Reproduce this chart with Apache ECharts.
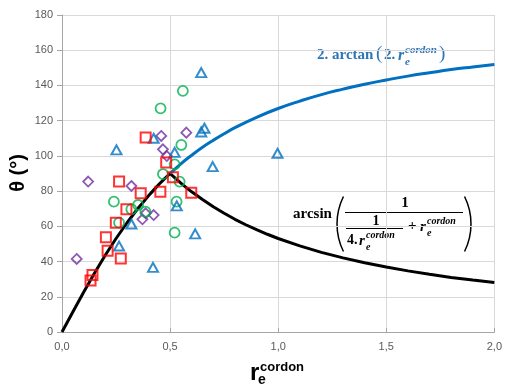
<!DOCTYPE html>
<html><head><meta charset="utf-8">
<script src="https://cdn.jsdelivr.net/npm/echarts@6/dist/echarts.min.js"></script>
<style>html,body{margin:0;padding:0;background:#fff}#c{width:505px;height:388px}</style>
</head><body><div id="c"></div>
<script>
// Curves
const asinR = [0,0.05,0.1,0.15,0.2,0.25,0.3,0.35,0.4,0.425,0.45,0.475,0.5,0.525,0.55,0.575,0.6,0.65,0.7,0.75,0.8,0.85,0.9,0.95,1.0,1.1,1.2,1.3,1.4,1.5,1.6,1.7,1.8,1.9,2.0];
const asinTheta = [0,11.4,22.6,33.4,43.6,53.1,61.9,70.0,77.3,80.7,84.0,87.1,90,87.2,84.5,82.0,79.6,75.2,71.1,67.4,64.0,60.9,58.1,55.5,53.1,48.9,45.2,42.1,39.3,36.9,34.7,32.8,31.0,29.5,28.1];
const atanR = [0.5,0.55,0.6,0.65,0.7,0.75,0.8,0.9,1.0,1.1,1.2,1.3,1.4,1.5,1.6,1.7,1.8,1.9,2.0];
const atanTheta = [90,95.5,100.4,104.9,108.9,112.6,116.0,121.9,126.9,131.1,134.8,137.9,140.7,143.1,145.3,147.2,149.0,150.5,151.9];

// Measured points
const redX = [0.132,0.141,0.203,0.211,0.249,0.272,0.264,0.298,0.364,0.387,0.455,0.482,0.513,0.598];
const redY = [29.2,32.4,53.8,46.2,62.1,41.8,85.4,69.7,78.8,110.5,79.7,96.2,87.8,79.1];
const greenX = [0.240,0.264,0.321,0.352,0.386,0.456,0.467,0.521,0.544,0.530,0.521,0.552,0.559];
const greenY = [74.0,62.1,69.7,72.1,68.3,127.0,89.7,95.2,85.4,74.0,56.4,106.2,136.9];
const blueX = [0.252,0.264,0.321,0.421,0.424,0.521,0.531,0.616,0.644,0.659,0.644,0.697,0.997];
const blueY = [103.4,48.8,61.3,36.7,110.0,102.0,71.6,55.7,113.6,115.7,147.3,93.9,101.5];
const purpleX = [0.068,0.121,0.321,0.372,0.387,0.424,0.459,0.467,0.485,0.575];
const purpleY = [41.5,85.4,82.9,64.0,67.4,66.4,111.3,103.7,99.9,113.2];

const xTickLabels = ['0,0','0,5','1,0','1,5','2,0'];
const yTickLabels = ['0','20','40','60','80','100','120','140','160','180'];

const zip = (a,b) => a.map((v,i)=>[v,b[i]]);
const chart = echarts.init(document.getElementById('c'), null, {renderer:'canvas'});

const SERIF = '"Liberation Serif", "DejaVu Serif", serif';
function rc(x, y, color, big, small) {
  return [
    {type:'text', x:x, y:y, style:{text:'r', font:'italic bold '+big+'px '+SERIF, fill:color, textVerticalAlign:'middle'}},
    {type:'text', x:x+7, y:y+6, style:{text:'e', font:'italic bold '+small+'px '+SERIF, fill:color, textVerticalAlign:'middle'}},
    {type:'text', x:x+7, y:y-6, style:{text:'cordon', font:'italic bold '+small+'px '+SERIF, fill:color, textVerticalAlign:'middle'}}
  ];
}
const BLUE = '#2E75B6';
const graphics = [].concat(
  // y axis title
  [{type:'text', x:18, y:173, rotation:Math.PI/2, style:{text:'θ (°)', font:'bold 20px "Liberation Sans", Arial, sans-serif', fill:'#000', textAlign:'center', textVerticalAlign:'middle'}}],
  // x axis title
  [{type:'text', x:250, y:373, style:{text:'r', font:'bold 24px "Liberation Sans", Arial, sans-serif', fill:'#000', textVerticalAlign:'middle'}},
   {type:'text', x:258, y:380, style:{text:'e', font:'bold 14px "Liberation Sans", Arial, sans-serif', fill:'#000', textVerticalAlign:'middle'}},
   {type:'text', x:260, y:367, style:{text:'cordon', font:'bold 13px "Liberation Sans", Arial, sans-serif', fill:'#000', textVerticalAlign:'middle'}}],
  // blue formula
  [{type:'text', x:317, y:55, style:{text:'2. arctan', font:'bold 15px '+SERIF, fill:BLUE, textVerticalAlign:'middle'}},
   {type:'text', x:376, y:54, style:{text:'(', font:'19px '+SERIF, fill:BLUE, textVerticalAlign:'middle'}},
   {type:'text', x:384, y:55, style:{text:'2.', font:'bold 15px '+SERIF, fill:BLUE, textVerticalAlign:'middle'}}],
  rc(398, 56, BLUE, 16, 11),
  [{type:'text', x:439, y:54, style:{text:')', font:'19px '+SERIF, fill:BLUE, textVerticalAlign:'middle'}}],
  // black formula
  [{type:'text', x:293, y:214, style:{text:'arcsin', font:'bold 15px '+SERIF, fill:'#000', textVerticalAlign:'middle'}},
   {type:'arc', shape:{cx:399, cy:224, r:62, startAngle:Math.PI-0.46, endAngle:Math.PI+0.46}, style:{stroke:'#000', lineWidth:1.5, fill:null}},
   {type:'arc', shape:{cx:409, cy:224, r:62, startAngle:-0.46, endAngle:0.46}, style:{stroke:'#000', lineWidth:1.5, fill:null}},
   {type:'text', x:405, y:203, style:{text:'1', font:'bold 15px '+SERIF, fill:'#000', textAlign:'center', textVerticalAlign:'middle'}},
   {type:'line', shape:{x1:345, y1:212.5, x2:463, y2:212.5}, style:{stroke:'#000', lineWidth:1}},
   {type:'text', x:376, y:221, style:{text:'1', font:'bold 14px '+SERIF, fill:'#000', textAlign:'center', textVerticalAlign:'middle'}},
   {type:'line', shape:{x1:346, y1:228.5, x2:403, y2:228.5}, style:{stroke:'#000', lineWidth:1}},
   {type:'text', x:347, y:240, style:{text:'4.', font:'bold 14px '+SERIF, fill:'#000', textVerticalAlign:'middle'}},
   {type:'text', x:408, y:226, style:{text:'+', font:'bold 15px '+SERIF, fill:'#000', textVerticalAlign:'middle'}}],
  rc(359, 241, '#000', 15, 10),
  rc(420, 227, '#000', 15, 10)
);

const hollow = (color, bw) => ({color:'rgba(255,255,255,0)', borderColor:color, borderWidth:bw});

chart.setOption({
  animation:false,
  backgroundColor:'#fff',
  grid:{left:62, right:9, top:15, bottom:56},
  xAxis:{type:'value', min:0, max:2, interval:0.5,
    axisLine:{lineStyle:{color:'#A6A6A6', width:1}},
    axisTick:{show:true, inside:true, length:4, lineStyle:{color:'#A6A6A6'}},
    splitLine:{show:true, lineStyle:{color:'#D9D9D9', width:1}},
    axisLabel:{color:'#595959', fontSize:11, fontFamily:'"Liberation Sans", Arial, sans-serif', margin:9,
      formatter:(v)=>xTickLabels[Math.round(v/0.5)]}
  },
  yAxis:{type:'value', min:0, max:180, interval:20,
    axisLine:{show:true, lineStyle:{color:'#A6A6A6', width:1}},
    axisTick:{show:true, length:5, lineStyle:{color:'#A6A6A6'}},
    splitLine:{show:true, lineStyle:{color:'#D9D9D9', width:1}},
    axisLabel:{color:'#595959', fontSize:11, fontFamily:'"Liberation Sans", Arial, sans-serif', margin:9,
      formatter:(v)=>yTickLabels[Math.round(v/20)]}
  },
  series:[
    {type:'line', data:zip(asinR, asinTheta), showSymbol:false, smooth:false, lineStyle:{color:'#000', width:3}, z:2},
    {type:'line', data:zip(atanR, atanTheta), showSymbol:false, smooth:true, lineStyle:{color:'#0070C0', width:3}, z:2},
    {type:'scatter', data:zip(purpleX, purpleY), symbol:'diamond', symbolSize:[10,10], itemStyle:hollow('#7030A0',1.8), z:3},
    {type:'scatter', data:zip(greenX, greenY), symbol:'circle', symbolSize:10, itemStyle:hollow('#00B050',1.8), z:3},
    {type:'scatter', data:zip(blueX, blueY), symbol:'triangle', symbolSize:[10,9], itemStyle:hollow('#0070C0',2), z:3},
    {type:'scatter', data:zip(redX, redY), symbol:'rect', symbolSize:10, itemStyle:hollow('#FF0000',2), z:3}
  ],
  graphic:graphics
});
</script>
</body></html>
